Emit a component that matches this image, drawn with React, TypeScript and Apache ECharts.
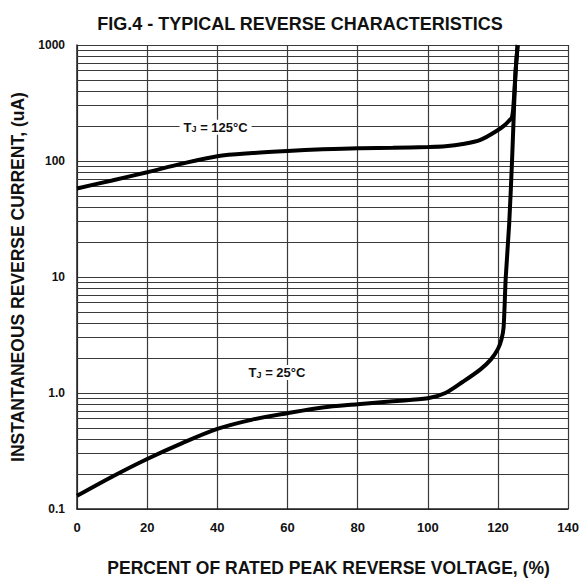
import React, { useEffect, useRef } from "react";
import * as echarts from "echarts";

const TITLE = "FIG.4 - TYPICAL REVERSE CHARACTERISTICS";
const X_NAME = "PERCENT OF RATED PEAK REVERSE VOLTAGE, (%)";
const Y_NAME = "INSTANTANEOUS REVERSE CURRENT, (uA)";

const xTicks = [0, 20, 40, 60, 80, 100, 120, 140];
const yDecades = [0.1, 1, 10, 100, 1000];
const yTickLabels = ["0.1", "1.0", "10", "100", "1000"];
const minorMultipliers = [2, 3, 4, 5, 6, 7, 8, 9];

const tj125X = [0, 10, 20, 30, 40, 50, 60, 70, 80, 90, 100, 105, 110, 115, 120, 122, 123, 124, 124.5, 125, 125.6];
const tj125Y = [58, 68, 80, 95, 110, 117, 122, 126, 129, 130, 132, 134, 140, 152, 185, 205, 220, 240, 330, 577, 1000];

const tj25X = [0, 10, 20, 30, 40, 50, 60, 70, 80, 90, 100, 105, 110, 115, 118, 120, 121, 121.6, 122.2, 123.2, 124, 124.5, 125, 125.6];
const tj25Y = [0.13, 0.19, 0.27, 0.37, 0.49, 0.59, 0.67, 0.75, 0.8, 0.85, 0.9, 1.0, 1.25, 1.6, 1.95, 2.4, 2.9, 3.7, 9.8, 29, 100, 250, 577, 1000];

const label125 = { x: 39.5, y: 195, temp: "125°C" };
const label25 = { x: 57, y: 1.5, temp: "25°C" };

export default function App() {
  const ref = useRef<HTMLDivElement>(null);
  useEffect(() => {
    if (!ref.current) return;
    const chart = echarts.init(ref.current, null, { renderer: "svg" });
    const font = "'Liberation Sans', Arial, sans-serif";
    const minorLines: number[] = [];
    yDecades.slice(0, -1).forEach((d) => minorMultipliers.forEach((m) => minorLines.push(d * m)));
    const gridColor = "#3a3a3a";
    const tempLabel = (t: string) => ({
      show: true,
      position: "inside",
      formatter: `{a|T}{b|J}{a| = ${t}}`,
      backgroundColor: "#fff",
      padding: [1, 4],
      rich: {
        a: { fontSize: 13, fontWeight: "bold", color: "#111", fontFamily: font },
        b: { fontSize: 9, fontWeight: "bold", color: "#111", fontFamily: font, verticalAlign: "bottom" },
      },
    });
    chart.setOption({
      animation: false,
      backgroundColor: "#fff",
      title: {
        text: TITLE,
        left: 295,
        textAlign: "center",
        top: 10,
        textStyle: { fontFamily: font, fontSize: 18, fontWeight: "bold", color: "#111" },
      },
      grid: { left: 77, right: 11, top: 45, bottom: 69 },
      xAxis: {
        type: "value",
        min: xTicks[0],
        max: xTicks[xTicks.length - 1],
        interval: xTicks[1] - xTicks[0],
        name: X_NAME,
        nameLocation: "middle",
        nameGap: 50,
        nameTextStyle: { fontFamily: font, fontSize: 17.5, fontWeight: "bold", color: "#111", padding: [0, 0, 0, 12] },
        axisLine: { lineStyle: { color: "#222", width: 1.5 } },
        axisTick: { show: false },
        axisLabel: { fontFamily: font, fontSize: 13, fontWeight: "bold", color: "#111", margin: 12 },
        splitLine: { show: true, lineStyle: { color: gridColor, width: 1.2 } },
      },
      yAxis: {
        type: "log",
        logBase: 10,
        min: yDecades[0],
        max: yDecades[yDecades.length - 1],
        name: Y_NAME,
        nameLocation: "middle",
        nameGap: 45,
        nameTextStyle: { fontFamily: font, fontSize: 17.5, fontWeight: "bold", color: "#111" },
        axisLine: { show: true, lineStyle: { color: "#222", width: 1.5 } },
        axisTick: { show: false },
        axisLabel: {
          fontFamily: font,
          fontSize: 12,
          fontWeight: "bold",
          color: "#111",
          margin: 12,
          formatter: (v: number) => {
            const i = yDecades.findIndex((d) => Math.abs(Math.log10(d) - Math.log10(v)) < 1e-6);
            return i >= 0 ? yTickLabels[i] : "";
          },
        },
        splitLine: { show: true, lineStyle: { color: gridColor, width: 1.2 } },
      },
      series: [
        {
          type: "line",
          name: "TJ = 125°C",
          data: tj125X.map((x, i) => [x, tj125Y[i]]),
          showSymbol: false,
          smooth: 0.3,
          lineStyle: { color: "#000", width: 4 },
          z: 5,
          markLine: {
            silent: true,
            symbol: ["none", "none"],
            label: { show: false },
            lineStyle: { color: gridColor, width: 1.2, type: "solid" },
            data: minorLines.map((v) => ({ yAxis: v })),
            z: 1,
          },
          markPoint: {
            silent: true,
            symbol: "rect",
            symbolSize: 0,
            data: [{ coord: [label125.x, label125.y], label: tempLabel(label125.temp) }],
            z: 10,
          },
        },
        {
          type: "line",
          name: "TJ = 25°C",
          data: tj25X.map((x, i) => [x, tj25Y[i]]),
          showSymbol: false,
          smooth: 0.3,
          lineStyle: { color: "#000", width: 4 },
          z: 5,
          markPoint: {
            silent: true,
            symbol: "rect",
            symbolSize: 0,
            data: [{ coord: [label25.x, label25.y], label: tempLabel(label25.temp) }],
            z: 10,
          },
        },
      ],
    });
    return () => chart.dispose();
  }, []);
  return <div ref={ref} style={{ position: "fixed", left: 0, top: 0, width: 582, height: 582 }} />;
}
